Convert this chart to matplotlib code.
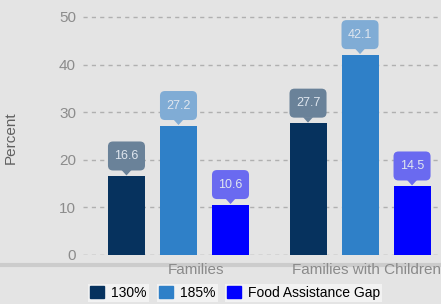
import numpy as np
import matplotlib
matplotlib.use("Agg")
import matplotlib.pyplot as plt
from matplotlib.lines import Line2D
from matplotlib.patches import Patch, FancyBboxPatch, Polygon

categories = ["Families", "Families with Children"]
series = ["130%", "185%", "Food Assistance Gap"]
vals_130 = [16.6, 27.7]
vals_185 = [27.2, 42.1]
vals_gap = [10.6, 14.5]
yticks = [0, 10, 20, 30, 40, 50]

colors = ["#06325e", "#2f80c8", "#0000ff"]
box_colors = ["#6a8299", "#80acd5", "#6a6af0"]
bg = "#e4e4e4"

plt.rcParams['font.family'] = ['Liberation Sans', 'DejaVu Sans']

fig = plt.figure(figsize=(4.41, 3.04), dpi=100, facecolor=bg)
W, H = 441, 304
ax = fig.add_axes([83 / W, 49 / H, 1 - 83 / W, 255 / H])
ax.set_facecolor(bg)
ax.set_xlim(-0.526, 1.446)
ax.set_ylim(0, 53.57)

# pixel -> data scales (fixed figure size)
px_x = (ax.get_xlim()[1] - ax.get_xlim()[0]) / (W - 83)
px_y = (ax.get_ylim()[1] - ax.get_ylim()[0]) / 255

x = np.arange(len(categories))
step = 0.2865
width = 0.204
data = [vals_130, vals_185, vals_gap]

for i, vals in enumerate(data):
    xs = x + (i - 1) * step
    ax.bar(xs, vals, width=width, color=colors[i], zorder=3)
    for xi, v in zip(xs, vals):
        b0 = v + 5.5 * px_y
        bh = 29 * px_y
        box = FancyBboxPatch((xi - width / 2, b0), width, bh,
                             boxstyle="round,pad=0,rounding_size=%f" % (5 * px_x),
                             mutation_aspect=px_y / px_x,
                             fc=box_colors[i], ec='none', zorder=4)
        ax.add_patch(box)
        tri = Polygon([(xi - 5 * px_x, b0 + 0.5 * px_y), (xi + 5 * px_x, b0 + 0.5 * px_y),
                       (xi, v + 0.5 * px_y)], closed=True, fc=box_colors[i], ec='none', zorder=4)
        ax.add_patch(tri)
        ax.text(xi, b0 + bh / 2, f"{v}", ha='center', va='center', fontsize=9,
                color='#dfe6ef', zorder=5)

ax.set_yticks(yticks)
ax.set_yticklabels([str(t) for t in yticks])
ax.tick_params(axis='y', length=0, pad=5, labelsize=11, labelcolor='#8c8c8c')
label_shift = [0.099, 0.035]
ax.set_xticks(x + np.array(label_shift))
ax.set_xticklabels(categories)
ax.tick_params(axis='x', length=0, pad=6, labelsize=11, labelcolor='#8a8a8a')

for t in yticks:
    ax.axhline(t, color='#9a9a9a' if t == 0 else '#b0b0b0', lw=1,
               ls=(0, (3, 3)), zorder=1)

for s in ax.spines.values():
    s.set_visible(False)

ax.set_ylabel("Percent", fontsize=11, color='#606060')
ax.yaxis.set_label_coords(-(83 - 18) / (W - 83), (255 - 138) / 255)

# band below the plot
fig.add_artist(Line2D([0, 1], [(H - 264.5) / H] * 2, color='#cccccc', lw=3,
                      transform=fig.transFigure, zorder=0))

# separate legend boxes
legend_x = [88, 157, 225]
for i in range(3):
    leg = fig.legend([Patch(color=colors[i])], [series[i]],
                     loc='center left', bbox_to_anchor=(legend_x[i] / W, 11 / H),
                     frameon=True, fontsize=10, handlelength=1.0, handleheight=1.0,
                     handletextpad=0.5, borderpad=0.15, borderaxespad=0,
                     fancybox=False)
    leg.get_frame().set_facecolor('#f2f2f2')
    leg.get_frame().set_edgecolor('none')
    leg.get_frame().set_alpha(1)

fig.savefig("out.png", dpi=100, facecolor=bg)
